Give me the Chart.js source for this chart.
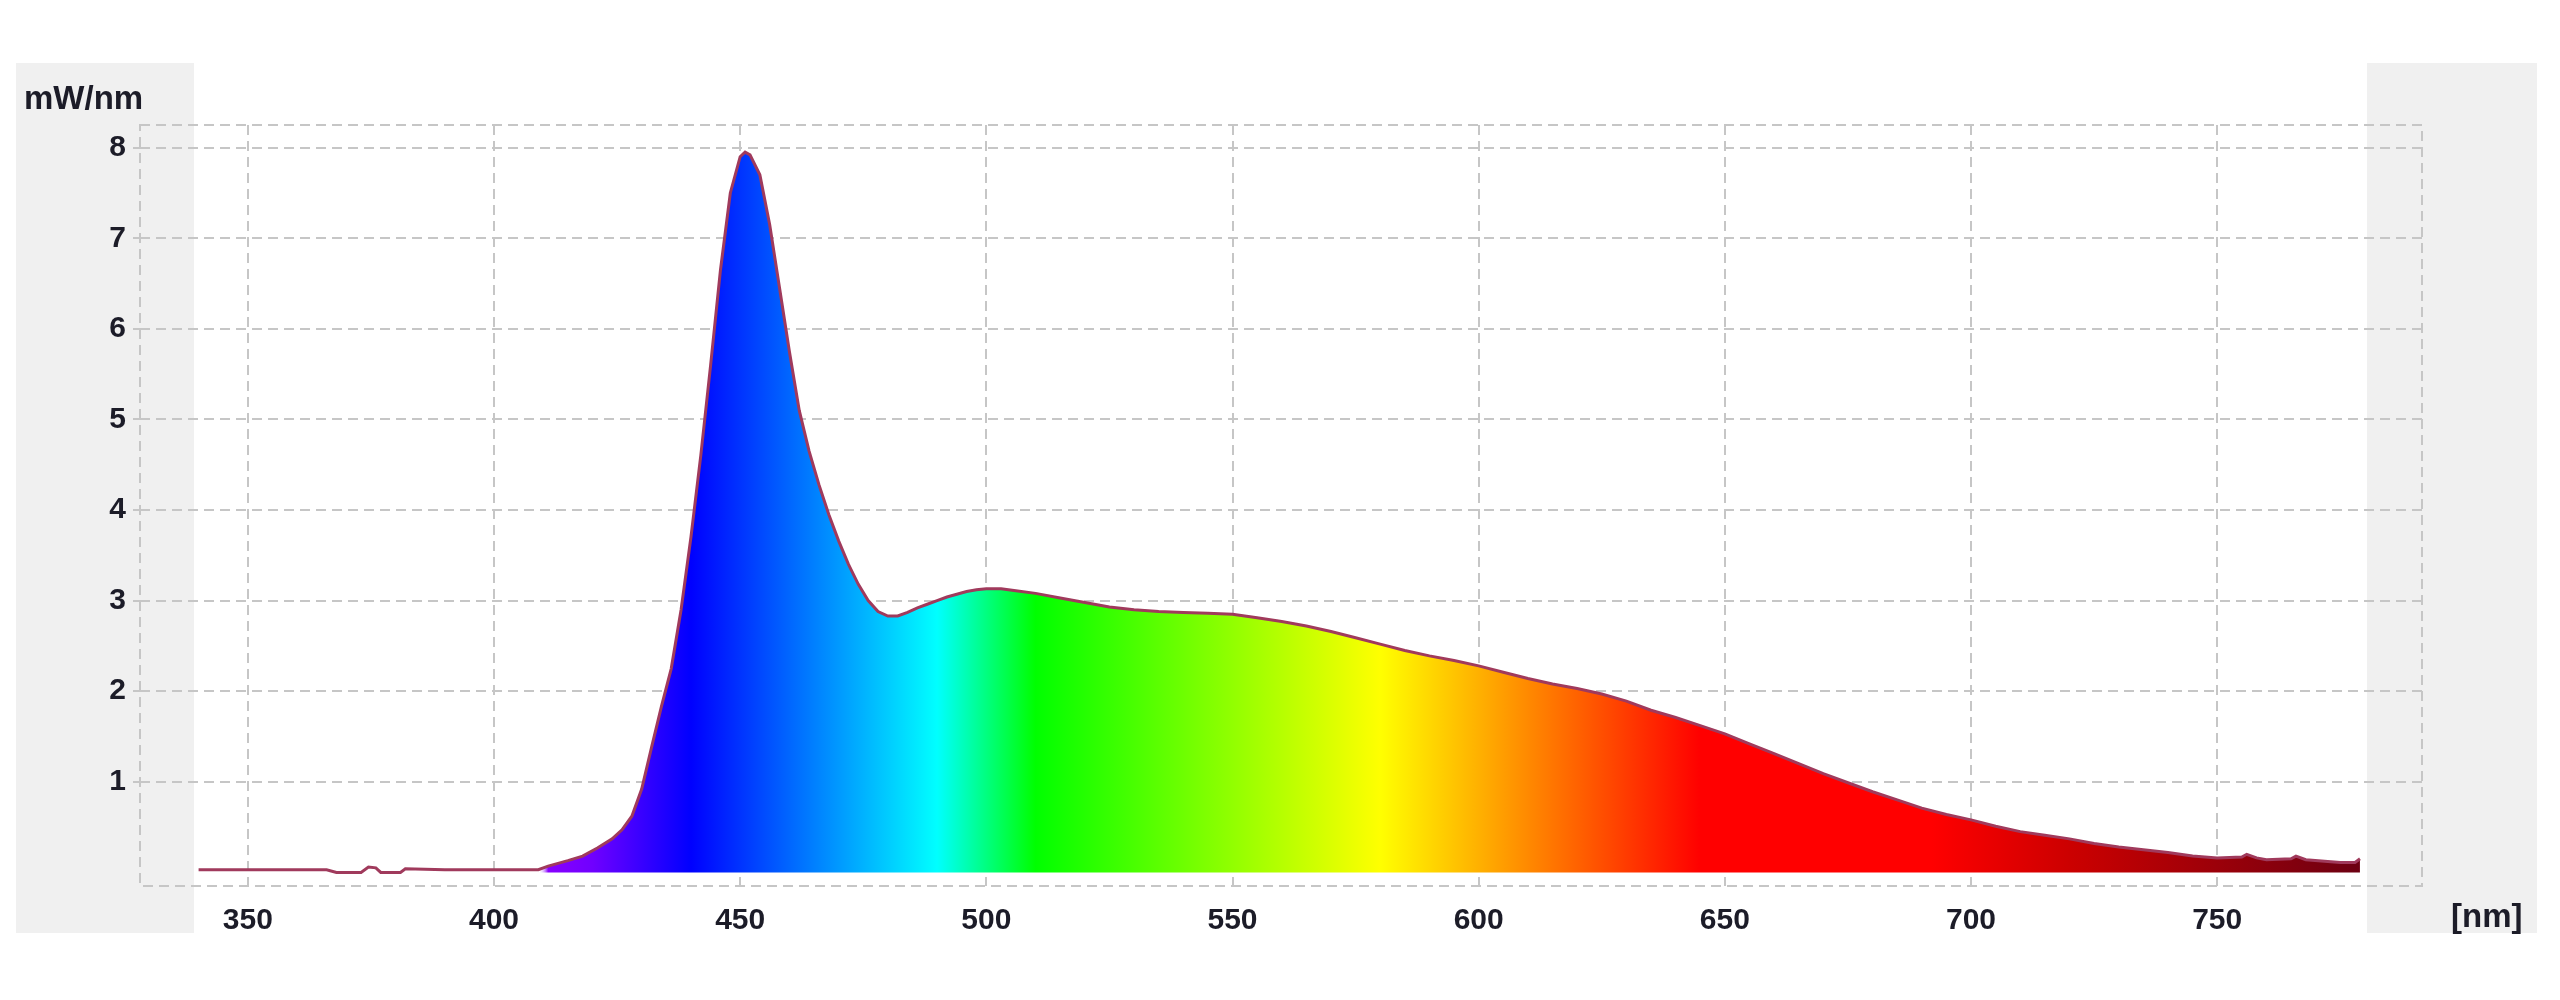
<!DOCTYPE html>
<html>
<head>
<meta charset="utf-8">
<script src="https://cdn.jsdelivr.net/npm/chart.js@4.4.1/dist/chart.umd.min.js"></script>
<style>
  html, body { margin: 0; padding: 0; background: #fff; }
  #wrap { position: relative; width: 2560px; height: 1000px; }
</style>
</head>
<body>
<div id="wrap"><canvas id="spectrum"></canvas></div>
<script>
// wavelength [nm] and spectral power [mW/nm]
const wavelengths = [
  340, 350, 360, 366, 368, 373, 374.5, 376, 377, 381, 382, 390, 400, 409,
  411, 413, 415, 418, 421, 424, 426, 428, 430, 432, 434, 436, 438, 440,
  442, 444, 446, 448, 450, 451, 452, 454, 456, 458, 460, 462, 464, 466,
  468, 470, 472, 474, 476, 478, 480, 482, 484, 486, 488, 490, 492, 494,
  496, 498, 500, 503, 506, 510, 515, 520, 525, 530, 535, 540, 545, 550,
  555, 560, 565, 570, 575, 580, 585, 590, 595, 600, 605, 610, 615, 620,
  625, 630, 635, 640, 645, 650, 655, 660, 665, 670, 675, 680, 685, 690,
  695, 700, 705, 710, 715, 720, 725, 730, 735, 740, 745, 750, 755, 756,
  758, 760, 765, 766, 768, 775, 778, 779
];
const power = [
  0.03, 0.03, 0.03, 0.03, 0.0, 0.0, 0.06, 0.05, 0.0, 0.0, 0.04, 0.03, 0.03, 0.03,
  0.07, 0.10, 0.13, 0.18, 0.27, 0.37, 0.47, 0.62, 0.92, 1.38, 1.83, 2.25, 2.90, 3.70,
  4.60, 5.60, 6.65, 7.50, 7.90, 7.95, 7.92, 7.70, 7.15, 6.45, 5.75, 5.10, 4.65, 4.28,
  3.95, 3.66, 3.40, 3.18, 3.00, 2.88, 2.83, 2.83, 2.87, 2.92, 2.96, 3.00, 3.04, 3.07,
  3.10, 3.12, 3.13, 3.13, 3.11, 3.08, 3.03, 2.98, 2.93, 2.90, 2.88, 2.87, 2.86, 2.85,
  2.81, 2.77, 2.72, 2.66, 2.59, 2.52, 2.45, 2.39, 2.34, 2.28, 2.21, 2.14, 2.08, 2.03,
  1.97, 1.89, 1.79, 1.71, 1.62, 1.53, 1.42, 1.31, 1.20, 1.09, 0.99, 0.89, 0.80, 0.71,
  0.64, 0.58, 0.51, 0.45, 0.41, 0.37, 0.32, 0.28, 0.25, 0.22, 0.18, 0.16, 0.17, 0.20,
  0.16, 0.14, 0.15, 0.18, 0.14, 0.11, 0.11, 0.15
];
const xTicks = [350, 400, 450, 500, 550, 600, 650, 700, 750];
const yTicks = [1, 2, 3, 4, 5, 6, 7, 8];

// colour of visible light along the wavelength axis
const spectrumStops = [
  [409, 'rgba(255,255,255,0)'], [411, '#8800ff'], [420, '#7000ff'], [440, '#0000ff'],
  [490, '#00ffff'], [510, '#00ff00'], [580, '#ffff00'], [645, '#ff0000'],
  [692, '#ff0000'], [720, '#cc0000'], [779, '#6c0012']
];

const gridColor = '#c6c6c6';
const textColor = '#1c1c28';

function spectrumFill(context) {
  const chart = context.chart;
  const area = chart.chartArea;
  if (!area) return 'rgba(0,0,0,0)';
  const x = chart.scales.x;
  const g = chart.ctx.createLinearGradient(area.left, 0, area.right, 0);
  spectrumStops.forEach(([nm, c]) => {
    const t = (x.getPixelForValue(nm) - area.left) / (area.right - area.left);
    g.addColorStop(Math.min(1, Math.max(0, t)), c);
  });
  return g;
}

const frame = {
  id: 'frame',
  beforeDraw(chart) {
    const ctx = chart.ctx;
    ctx.save();
    ctx.fillStyle = '#f0f0f0';
    ctx.fillRect(16, 63, 178, 870);
    ctx.fillRect(2367, 63, 170, 870);
    ctx.restore();
  },
  beforeDatasetsDraw(chart) {
    const { ctx, chartArea: a } = chart;
    ctx.save();
    ctx.strokeStyle = gridColor;
    ctx.lineWidth = 2;
    ctx.setLineDash([10, 6]);
    ctx.strokeRect(a.left, a.top, a.right - a.left, a.bottom - a.top);
    ctx.restore();
  },
  afterDraw(chart) {
    const ctx = chart.ctx;
    ctx.save();
    ctx.fillStyle = textColor;
    ctx.font = 'bold 33px "Liberation Sans", Arial, sans-serif';
    ctx.textBaseline = 'alphabetic';
    ctx.textAlign = 'left';
    ctx.fillText('mW/nm', 24, 109);
    ctx.fillText('[nm]', 2451, 927);
    ctx.restore();
  }
};

new Chart(document.getElementById('spectrum'), {
  type: 'line',
  data: {
    datasets: [{
      label: 'mW/nm',
      data: wavelengths.map((w, i) => ({ x: w, y: power[i] })),
      borderColor: '#a03a5c',
      borderWidth: 3,
      pointRadius: 0,
      tension: 0,
      fill: 'origin',
      backgroundColor: spectrumFill
    }]
  },
  options: {
    responsive: true,
    maintainAspectRatio: false,
    devicePixelRatio: 1,
    animation: false,
    layout: { padding: { top: 125, right: 138, left: 0, bottom: 0 } },
    plugins: { legend: { display: false }, tooltip: { enabled: false } },
    scales: {
      x: {
        type: 'linear',
        min: 328.1,
        max: 791.6,
        afterFit: s => { s.height = 114; },
        afterBuildTicks: s => { s.ticks = xTicks.map(v => ({ value: v })); },
        ticks: {
          color: textColor,
          font: { family: '"Liberation Sans", Arial, sans-serif', size: 30, weight: 'bold' },
          padding: 17,
          maxRotation: 0,
          autoSkip: false
        },
        grid: { color: gridColor, lineWidth: 2, drawTicks: false },
        border: { display: false, dash: [10, 6] }
      },
      y: {
        min: -0.15,
        max: 8.25,
        afterFit: s => { s.width = 140; },
        afterBuildTicks: s => { s.ticks = yTicks.map(v => ({ value: v })); },
        ticks: {
          color: textColor,
          font: { family: '"Liberation Sans", Arial, sans-serif', size: 30, weight: 'bold' },
          padding: 7
        },
        grid: { color: gridColor, lineWidth: 2, tickLength: 7, tickBorderDash: [] },
        border: { display: false, dash: [10, 6] }
      }
    }
  },
  plugins: [frame]
});
</script>
</body>
</html>
